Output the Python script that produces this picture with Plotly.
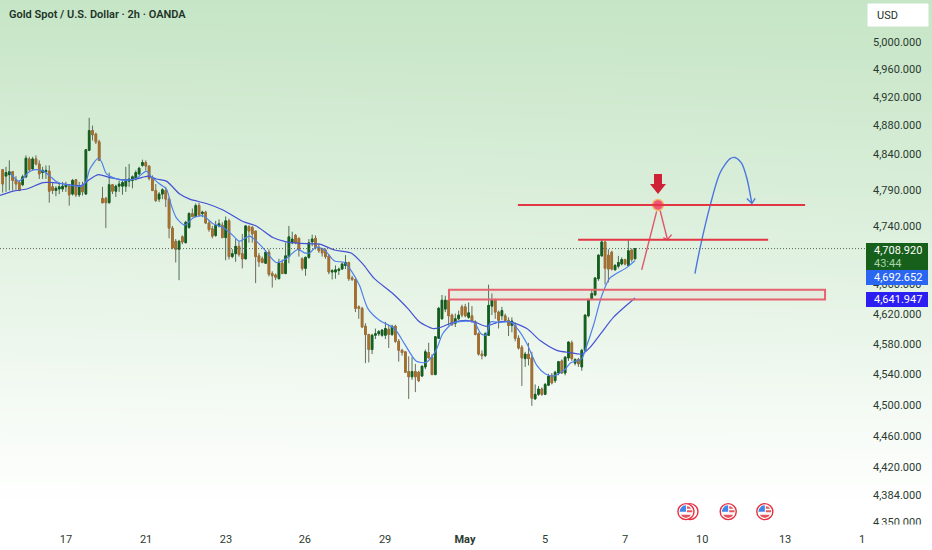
import plotly.graph_objects as go

title_text = "Gold Spot / U.S. Dollar · 2h · OANDA"
direction = ("BGGBBBGGBG" "BBGGBBGGGG" "BGBGBGGBBB" "BBGBGGGGGG" "GGGBBBBGGB"
             "BBBGBGGBGB" "GBBBGGBGBG" "GBBGBBBBBG" "BBBGBGGGBB" "BGGGBBBBBG"
             "GGGGBBBBBB" "BGGGGGBGBB" "BBBGBBGGBB" "GGGGBBGGBB" "GBBBBGGGBB"
             "GBBGBBBGBB" "GGBGGBGGBG" "GBGBGGGGGG" "GBBBGGGBGBG")
body_top = [4818,4814,4815,4815,4804,4800,4808,4834,4833,4833,
            4833,4826,4817,4817,4816,4794,4792,4794,4795,4797,
            4795,4803,4804,4795,4796,4846,4873,4873,4868,4857,
            4778,4778,4797,4797,4795,4798,4800,4803,4805,4808,
            4814,4820,4828,4828,4823,4806,4789,4784,4790,4789,
            4777,4737,4719,4719,4725,4745,4757,4757,4768,4768,
            4759,4759,4744,4736,4741,4743,4741,4747,4747,4702,
            4712,4712,4702,4740,4739,4738,4733,4699,4695,4704,
            4704,4675,4673,4689,4689,4699,4725,4722,4727,4723,
            4695,4697,4717,4722,4723,4711,4709,4707,4699,4679,
            4680,4681,4688,4690,4690,4669,4667,4630,4628,4604,
            4593,4592,4594,4597,4599,4601,4600,4604,4604,4584,
            4572,4570,4544,4544,4544,4543,4551,4570,4569,4563,
            4590,4628,4639,4639,4639,4619,4614,4619,4630,4630,
            4622,4618,4610,4594,4567,4594,4632,4639,4639,4623,
            4625,4618,4612,4611,4605,4588,4576,4567,4567,4562,
            4514,4521,4521,4527,4538,4539,4543,4557,4558,4563,
            4583,4582,4560,4560,4572,4619,4640,4648,4669,4700,
            4718,4718,4700,4704,4686,4690,4694,4694,4706,4707,4708.92]
body_bottom = [4798,4809,4811,4803,4798,4789,4797,4808,4818,4819,
               4826,4812,4814,4815,4788,4789,4789,4791,4791,4794,
               4783,4784,4783,4783,4787,4784,4845,4867,4857,4831,
               4772,4772,4772,4788,4788,4795,4795,4795,4802,4803,
               4805,4812,4824,4823,4806,4789,4775,4777,4784,4777,
               4737,4710,4708,4708,4718,4717,4738,4753,4753,4755,
               4757,4744,4735,4726,4727,4740,4724,4724,4698,4698,
               4702,4701,4695,4695,4733,4729,4698,4691,4690,4689,
               4674,4672,4670,4668,4675,4675,4698,4717,4717,4707,
               4682,4682,4697,4718,4710,4706,4703,4698,4677,4677,
               4677,4679,4681,4686,4668,4667,4628,4628,4603,4593,
               4573,4573,4592,4594,4592,4592,4593,4593,4584,4572,
               4569,4543,4537,4537,4537,4532,4538,4550,4562,4540,
               4540,4588,4614,4627,4618,4606,4608,4614,4619,4618,
               4616,4610,4593,4567,4565,4565,4592,4631,4623,4612,
               4618,4612,4605,4605,4588,4575,4562,4561,4561,4509,
               4508,4514,4514,4514,4526,4529,4532,4542,4542,4542,
               4562,4561,4555,4554,4550,4572,4618,4640,4646,4668,
               4699,4682,4681,4681,4680,4685,4688,4688,4686,4694,4695]
wick_top = [4819,4822,4831,4816,4809,4803,4811,4838,4836,4836,
            4838,4831,4822,4824,4824,4801,4795,4798,4801,4801,
            4798,4805,4805,4801,4801,4847,4891,4880,4870,4860,
            4794,4780,4814,4798,4797,4803,4803,4822,4826,4810,
            4817,4822,4832,4831,4824,4810,4798,4787,4792,4794,
            4780,4740,4722,4721,4727,4747,4759,4764,4771,4772,
            4761,4761,4747,4740,4747,4749,4745,4753,4750,4708,
            4722,4719,4729,4741,4741,4740,4733,4703,4698,4707,
            4708,4678,4675,4695,4694,4717,4740,4732,4729,4724,
            4697,4698,4722,4728,4727,4716,4710,4709,4701,4681,
            4686,4683,4690,4700,4691,4672,4668,4632,4630,4608,
            4594,4594,4601,4599,4600,4610,4606,4606,4606,4587,
            4574,4570,4564,4563,4554,4545,4552,4573,4582,4567,
            4591,4630,4646,4645,4642,4621,4621,4625,4633,4634,
            4636,4631,4612,4596,4572,4596,4660,4648,4641,4625,
            4630,4621,4616,4616,4609,4592,4579,4570,4582,4570,
            4527,4525,4523,4529,4541,4542,4545,4558,4560,4564,
            4584,4585,4561,4562,4574,4620,4641,4653,4670,4701,
            4721,4719,4708,4706,4688,4699,4697,4695,4720,4709,4709]
wick_bottom = [4786,4787,4789,4789,4789,4788,4795,4806,4815,4817,
               4824,4805,4805,4805,4772,4784,4781,4784,4787,4787,
               4768,4782,4780,4780,4782,4783,4844,4859,4854,4830,
               4771,4737,4771,4784,4780,4787,4783,4787,4794,4792,
               4803,4810,4822,4817,4803,4788,4773,4773,4777,4766,
               4723,4708,4690,4666,4715,4716,4736,4752,4752,4753,
               4752,4743,4732,4723,4725,4738,4723,4693,4694,4696,
               4691,4698,4682,4694,4717,4717,4662,4684,4689,4688,
               4671,4656,4666,4667,4674,4674,4689,4715,4715,4698,
               4679,4672,4695,4712,4708,4703,4698,4695,4674,4667,
               4668,4673,4680,4681,4665,4665,4623,4614,4602,4555,
               4556,4567,4587,4591,4590,4587,4575,4591,4582,4557,
               4565,4542,4508,4533,4517,4530,4537,4547,4561,4539,
               4539,4587,4613,4623,4605,4605,4603,4612,4616,4616,
               4614,4609,4592,4565,4560,4563,4591,4619,4614,4601,
               4612,4610,4591,4596,4584,4573,4525,4550,4552,4499,
               4507,4512,4512,4513,4525,4527,4529,4539,4541,4539,
               4558,4558,4552,4550,4545,4570,4616,4639,4645,4665,
               4698,4660,4663,4679,4679,4682,4686,4686,4686,4691,4694]

fast_x = [2.2,4.7,6.2,7.7,9.7,12.2,14.2,16.2,19.2,23.7,25,26.2,28.7,29.7,31.2,33.7,37.2,40.2,43.2,44.7,
          47.2,49.2,50.7,52.2,54.7,57.2,60.2,63.2,66.2,68.7,71.2,74.2,78.2,82.2,85.2,86.2,88.7,90.7,92.2,94.2,
          96.7,99.7,102.7,104.7,107.2,109.7,113.2,117.7,120.7,124.2,127.2,130.2,132.2,135.2,139.2,141.7,143.7,145.2,146.7,149.2,
          152.5,155,157.5,160.5,163,165.5,169,170.5,174,175,177.5,180,182.5,187.5,190]
fast_ma = [4814,4802,4806,4814,4818,4816,4809,4801,4797,4795,4801,4819,4834,4829,4812,4806,4803,4806,4816,4808,
           4798,4791,4768,4751,4741,4751,4754,4743,4738,4729,4719,4726,4710,4690,4695,4699,4708,4703,4703,4711,
           4707,4692,4690,4679,4659,4628,4612,4601,4581,4558,4556,4572,4594,4608,4611,4609,4594,4592,4610,4609,
           4610,4599,4581,4552,4541,4538,4547,4555,4561,4572,4605,4645,4669,4683,4692.652]
slow_x = [-0.8,3.2,7.2,12.2,15.2,23.7,25.7,28.7,32.2,36.2,40.2,43.7,46.2,49.2,53.2,56.2,61.2,66.2,72.2,76.2,81.2,85.2,
          89.2,95.2,99.7,104.7,108.2,111.7,117.2,121.7,125.2,129.2,131.2,135.2,139.2,141.7,145.2,149.2,
          152.5,157.5,161.5,166.5,170.5,174,176.5,180,183.5,190]
slow_ma = [4782,4788,4791,4800,4800,4796,4803,4811,4807,4804,4805,4809,4805,4802,4784,4777,4771,4762,4746,4740,4724,4718,
           4716,4715,4707,4703,4688,4668,4648,4628,4610,4601,4602,4609,4612,4610,4604,4610,
           4610,4601,4585,4572,4569,4567,4576,4596,4616,4641.947]

y_ticks = [5000,4960,4920,4880,4840,4790,4740,4660,4620,4580,4540,4500,4460,4420,4384,4350]
x_tick_pos = [19,43.1,67.1,90.8,114.9,138.9,163,187,210.2,235.1,258.2]
x_tick_text = ["17","21","23","26","29","<b>May</b>","5","7","10","13","1"]

last_price = 4708.92
countdown = "43:44"
upper_level = 4769
lower_level = 4721
zone_low = 4640
zone_high = 4653
forecast_x = [208,209.5,212.5,215.5,218.5,220,222,223.6,225.1]
forecast_y = [4675,4709,4767,4813,4833,4835,4827,4806,4771]
event_x = [206.5,205.3,218,229]
event_level = 4363

GREEN, BROWN = "#12601d", "#a8702c"
opens = [b if d == "B" else c for d, b, c in zip(direction, body_top, body_bottom)]
closes = [c if d == "B" else b for d, b, c in zip(direction, body_top, body_bottom)]
W, H = 932, 550
YS = 1.0075
PANE_R, PANE_B = 866, 525
TEXT = "#2b3a30"
FONT = "Roboto"
px = lambda x: x / W
py = lambda y: 1 - y * YS / H

fig = go.Figure()
fig.add_trace(go.Heatmap(z=[[1.0,1.0],[0.8,0.84],[0.6,0.66],[0.4,0.46],[0.2,0.22],[0.02,0.02],[0,0]],
                         y=[0,100,200,300,400,500,550], x=[0,932], zsmooth="best", showscale=False,
                         colorscale=[[0,"#ffffff"],[1,"#c6e5c6"]], zmin=0, zmax=1, hoverinfo="skip"))
idx = list(range(len(opens)))
fig.add_trace(go.Candlestick(x=idx, open=opens, high=wick_top, low=wick_bottom, close=closes,
                             xaxis="x2", yaxis="y2", whiskerwidth=0, hoverinfo="skip",
                             increasing=dict(fillcolor=GREEN, line=dict(color="#4f6f56", width=1)),
                             decreasing=dict(fillcolor=BROWN, line=dict(color="#6f6a5a", width=1))))
fig.add_trace(go.Candlestick(x=idx, open=opens, high=body_top, low=body_bottom, close=closes,
                             xaxis="x2", yaxis="y2", whiskerwidth=0, hoverinfo="skip",
                             increasing=dict(fillcolor=GREEN, line=dict(color=GREEN, width=0.8)),
                             decreasing=dict(fillcolor=BROWN, line=dict(color=BROWN, width=0.8))))
fig.add_trace(go.Scatter(x=slow_x, y=slow_ma, xaxis="x2", yaxis="y2", mode="lines", hoverinfo="skip",
                         line=dict(color="#4452d4", width=1.2, shape="spline", smoothing=0.7)))
fig.add_trace(go.Scatter(x=fast_x, y=fast_ma, xaxis="x2", yaxis="y2", mode="lines", hoverinfo="skip",
                         line=dict(color="#4f80ea", width=1.2, shape="spline", smoothing=0.7)))
# drawn forecast paths
fig.add_trace(go.Scatter(x=forecast_x, y=forecast_y, xaxis="x2", yaxis="y2", mode="lines", hoverinfo="skip",
                         line=dict(color="#4a78e0", width=1.4, shape="spline", smoothing=0.8)))
fig.add_trace(go.Scatter(x=[223.6,225.1,226.1], y=[4778,4771,4778], xaxis="x2", yaxis="y2", mode="lines",
                         hoverinfo="skip", line=dict(color="#4a78e0", width=1.4)))
fig.add_trace(go.Scatter(x=[192,196.5], y=[4680,4760], xaxis="x2", yaxis="y2", mode="lines", hoverinfo="skip",
                         line=dict(color="#e0566e", width=1.4)))
fig.add_trace(go.Scatter(x=[197.5,199.7], y=[4762,4722], xaxis="x2", yaxis="y2", mode="lines", hoverinfo="skip",
                         line=dict(color="#e0566e", width=1.4)))
fig.add_trace(go.Scatter(x=[198.5,199.7,201], y=[4724,4721,4728], xaxis="x2", yaxis="y2", mode="lines",
                         hoverinfo="skip", line=dict(color="#e0566e", width=1.4)))
fig.add_trace(go.Scatter(x=[196.9], y=[upper_level], xaxis="x2", yaxis="y2", mode="markers", hoverinfo="skip",
                         marker=dict(size=11, color="#ee5577", line=dict(color="#f5b868", width=1.5))))
# economic-event badges: ring markers, flag details are shapes on top
fig.add_trace(go.Scatter(x=event_x, y=[event_level] * len(event_x), xaxis="x2", yaxis="y2", mode="markers",
                         hoverinfo="skip", marker=dict(size=16, color="#ffffff", line=dict(color="#e5303f", width=1.4))))

shapes = [
    dict(type="line", xref="x2", yref="y2", x0=-0.8, x1=259.4, y0=last_price, y1=last_price,
         line=dict(color="#56655a", width=1, dash="1px,2px")),
    dict(type="rect", xref="x2", yref="y2", x0=134.1, x1=247.1, y0=zone_low, y1=zone_high,
         fillcolor="rgba(240,120,130,0.06)", line=dict(color="#e5636f", width=2)),
    dict(type="line", xref="x2", yref="y2", x0=154.8, x1=241.1, y0=upper_level, y1=upper_level,
         line=dict(color="#e23645", width=2)),
    dict(type="line", xref="x2", yref="y2", x0=172.9, x1=230, y0=lower_level, y1=lower_level,
         line=dict(color="#e23645", width=2)),
    dict(type="path", xref="x2", yref="y2", xsizemode="pixel", ysizemode="pixel", xanchor=196.9, yanchor=4769,
         path="M -4 31 L 4 31 L 4 21 L 8 21 L 0 11 L -8 21 L -4 21 Z", fillcolor="#cf2236", line=dict(width=0)),
    dict(type="rect", xref="paper", yref="paper", x0=px(PANE_R), x1=1, y0=0, y1=py(524.5),
         fillcolor="#fefffe", line=dict(width=0)),
    dict(type="rect", xref="paper", yref="paper", x0=px(866), x1=px(928), y0=py(270), y1=py(243),
         fillcolor="#17601b", line=dict(width=0)),
    dict(type="rect", xref="paper", yref="paper", x0=px(866), x1=px(928), y0=py(285), y1=py(270),
         fillcolor="#2a66f2", line=dict(width=0)),
    dict(type="rect", xref="paper", yref="paper", x0=px(866), x1=px(928), y0=py(307), y1=py(292),
         fillcolor="#2c1ef2", line=dict(width=0)),
    dict(type="rect", xref="paper", yref="paper", x0=px(868), x1=px(928), y0=py(26), y1=py(4),
         fillcolor="#ffffff", line=dict(color="#ffffff", width=1)),
]
for ex in event_x[1:]:
    base = dict(xref="x2", yref="y2", xsizemode="pixel", ysizemode="pixel", xanchor=ex, yanchor=event_level,
                type="path", line=dict(width=0))
    shapes += [
        dict(base, path="M -6.5 0 L 0 0 L 0 6.5 L -3 5.8 L -5.6 3 Z", fillcolor="#3f86e8"),
        dict(base, path="M 1 5.5 L 3.5 5 L 5.2 3 L 1 3 Z M 1 1.5 L 6.3 1.5 L 6.3 -0.5 L 1 -0.5 Z", fillcolor="#e5555f"),
        dict(base, path="M -5 -3 L 5 -3 L 3.5 -5 L 0 -6.3 L -3.5 -5 Z", fillcolor="#e5555f"),
    ]

def label(x, y, text, color=TEXT, size=11, weight=None, anchor="left"):
    f = dict(family=FONT, size=size, color=color)
    if weight:
        f["weight"] = weight
    return dict(xref="paper", yref="paper", x=px(x), y=py(y), text=text, showarrow=False, xanchor=anchor,
                yanchor="middle", font=f, align=anchor)

annotations = [
    label(7, 14, title_text, color="#1d3327", size=11, weight=600),
    label(875, 15, "USD", color="#22302a", size=11),
    label(872, 250, f"{last_price:,.3f}", color="#ffffff"),
    label(872, 263, countdown, color="#a9d4a9"),
    label(872, 277, "4,692.652", color="#ffffff"),
    label(872, 299.5, "4,641.947", color="#ffffff"),
]

fig.update_layout(
    width=W, height=H, margin=dict(l=0, r=0, t=0, b=0), showlegend=False,
    paper_bgcolor="#ffffff", plot_bgcolor="rgba(0,0,0,0)", font=dict(family=FONT, color=TEXT, size=11),
    xaxis=dict(domain=[0,1], range=[0,932], visible=False, fixedrange=True),
    yaxis=dict(domain=[0,1], range=[550,0], visible=False, fixedrange=True),
    xaxis2=dict(domain=[0, PANE_R/W], range=[-0.8,259.4], anchor="y2", showgrid=False, zeroline=False,
                tickmode="array", tickvals=x_tick_pos, ticktext=x_tick_text, ticks="", showline=False,
                ticklabelstandoff=6, rangeslider=dict(visible=False), tickfont=dict(family=FONT, size=11, color=TEXT)),
    yaxis2=dict(domain=[py(PANE_B), 1], type="log", range=[3.63809,3.70424], anchor="x2", side="right",
                autorange=False, showgrid=False, zeroline=False, showline=False, ticks="",
                tickmode="array", tickvals=y_ticks, ticktext=[f"{v:,.3f}" for v in y_ticks],
                ticklabelstandoff=6, tickfont=dict(family=FONT, size=11, color=TEXT)),
    shapes=shapes, annotations=annotations,
)
fig.write_html("out.html", config=dict(displayModeBar=False),
               post_script="document.body.style.margin='0';document.body.style.overflow='hidden';")
